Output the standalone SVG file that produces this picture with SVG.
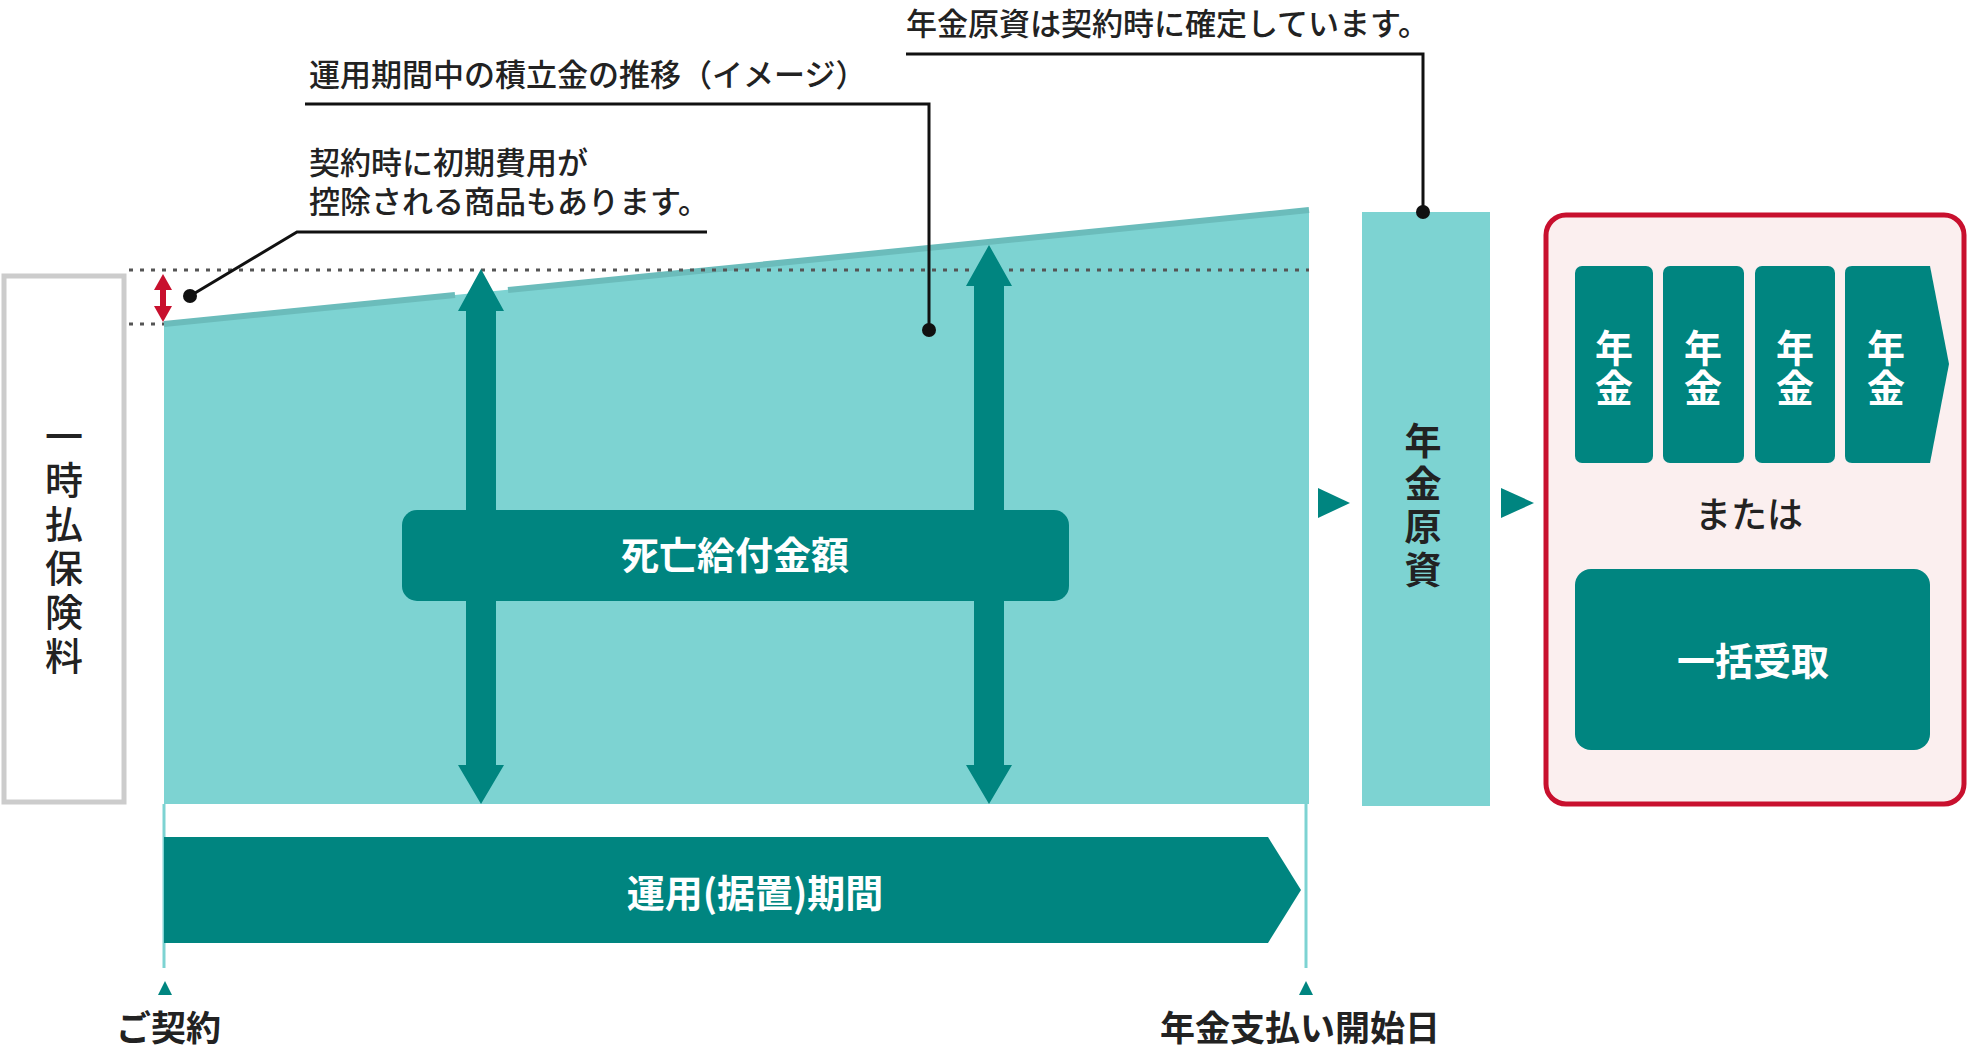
<svg xmlns="http://www.w3.org/2000/svg" width="1968" height="1052" viewBox="0 0 1968 1052">
<style>
text{font-family:"Noto Sans CJK JP","Noto Sans",sans-serif}
.ann{font-size:31px;font-weight:500;fill:#222}
.wb{font-size:38px;font-weight:700;fill:#fff}
.kb{font-weight:700;fill:#222}
.dk{fill:#008580}
.lead{fill:none;stroke:#111;stroke-width:3}
.dot{fill:none;stroke:#555;stroke-width:3;stroke-dasharray:4 7}
</style>
<rect width="1968" height="1052" fill="#fff"/>
<g id="area">
<polygon points="164,324 1309,210 1309,804 164,804" fill="#7dd3d2"/>
<line x1="164" y1="324" x2="455" y2="295" stroke="#6bbcbb" stroke-width="6"/>
<line x1="508" y1="290" x2="1309" y2="210" stroke="#6bbcbb" stroke-width="6"/>
</g>
<g id="guides">
<line class="dot" x1="129" y1="270" x2="1309" y2="270"/>
<line class="dot" x1="129" y1="324" x2="164" y2="324"/>
<line x1="164" y1="804" x2="164" y2="968" stroke="#7dd3d2" stroke-width="3"/>
<line x1="1306" y1="804" x2="1306" y2="968" stroke="#7dd3d2" stroke-width="3"/>
<polygon points="165,981 158,995 172,995" fill="#008580"/>
<polygon points="1306,981 1299,995 1313,995" fill="#008580"/>
<polygon points="163,274 154,290 160,290 160,306 154,306 163,322 172,306 166,306 166,290 172,290" fill="#c8102e"/>
</g>
<g id="premium">
<rect x="4" y="276" width="120" height="526" fill="#fff" stroke="#ccc" stroke-width="5"/>
<text x="64" y="450" font-size="38" font-weight="500" fill="#222" text-anchor="middle"><tspan x="64" dy="0">一</tspan><tspan x="64" dy="44">時</tspan><tspan x="64" dy="44">払</tspan><tspan x="64" dy="44">保</tspan><tspan x="64" dy="44">険</tspan><tspan x="64" dy="44">料</tspan></text>
</g>
<g id="arrows">
<polygon class="dk" points="481,269 504,311 496,311 496,765 504,765 481,804 458,765 466,765 466,311 458,311"/>
<polygon class="dk" points="989,245 1012,286 1004,286 1004,765 1012,765 989,804 966,765 974,765 974,286 966,286"/>
</g>
<g id="death">
<rect class="dk" x="402" y="510" width="667" height="91" rx="15"/>
<text class="wb" x="735" y="569" text-anchor="middle">死亡給付金額</text>
</g>
<g id="period">
<polygon class="dk" points="164,837 1268,837 1301,890 1268,943 164,943"/>
<text class="wb" x="755" y="907" text-anchor="middle">運用(据置)期間</text>
</g>
<g id="labels">
<text class="kb" x="116" y="1041" font-size="35">ご契約</text>
<text class="kb" x="1160" y="1041" font-size="35">年金支払い開始日</text>
</g>
<g id="fund">
<rect x="1362" y="212" width="128" height="594" fill="#7dd3d2"/>
<text class="kb" x="1423" y="455" font-size="37" text-anchor="middle"><tspan x="1423" dy="0">年</tspan><tspan x="1423" dy="43">金</tspan><tspan x="1423" dy="43">原</tspan><tspan x="1423" dy="43">資</tspan></text>
<polygon class="dk" points="1318,488 1350,503 1318,518"/>
<polygon class="dk" points="1501,488 1534,503 1501,518"/>
</g>
<g id="payout">
<rect x="1546" y="215" width="418" height="589" rx="20" fill="#fbefef" stroke="#c8102e" stroke-width="5"/>
<rect class="dk" x="1575" y="266" width="78" height="197" rx="7"/>
<rect class="dk" x="1663" y="266" width="81" height="197" rx="7"/>
<rect class="dk" x="1755" y="266" width="80" height="197" rx="7"/>
<path class="dk" d="M1852,266 H1930 L1949,364 L1930,463 H1852 Q1845,463 1845,456 V273 Q1845,266 1852,266 Z"/>
<g class="wb" text-anchor="middle">
<text x="1614" y="362"><tspan x="1614">年</tspan><tspan x="1614" dy="40">金</tspan></text>
<text x="1703" y="362"><tspan x="1703">年</tspan><tspan x="1703" dy="40">金</tspan></text>
<text x="1795" y="362"><tspan x="1795">年</tspan><tspan x="1795" dy="40">金</tspan></text>
<text x="1886" y="362"><tspan x="1886">年</tspan><tspan x="1886" dy="40">金</tspan></text>
</g>
<text x="1749" y="528" font-size="36" font-weight="500" fill="#222" text-anchor="middle">または</text>
<rect class="dk" x="1575" y="569" width="355" height="181" rx="16"/>
<text class="wb" x="1753" y="675" text-anchor="middle">一括受取</text>
</g>
<g id="connectors">
<polyline class="lead" points="906,54 1423,54 1423,212"/>
<circle cx="1423" cy="212" r="7" fill="#111"/>
<polyline class="lead" points="305,104 929,104 929,330"/>
<circle cx="929" cy="330" r="7" fill="#111"/>
<polyline class="lead" points="707,232 297,232 190,296"/>
<circle cx="190" cy="296" r="7" fill="#111"/>
</g>
<g id="annotations">
<text class="ann" x="906" y="35">年金原資は契約時に確定しています。</text>
<text class="ann" x="309" y="86">運用期間中の積立金の推移（イメージ）</text>
<text class="ann" x="309" y="174">契約時に初期費用が</text>
<text class="ann" x="309" y="213">控除される商品もあります。</text>
</g>
</svg>
